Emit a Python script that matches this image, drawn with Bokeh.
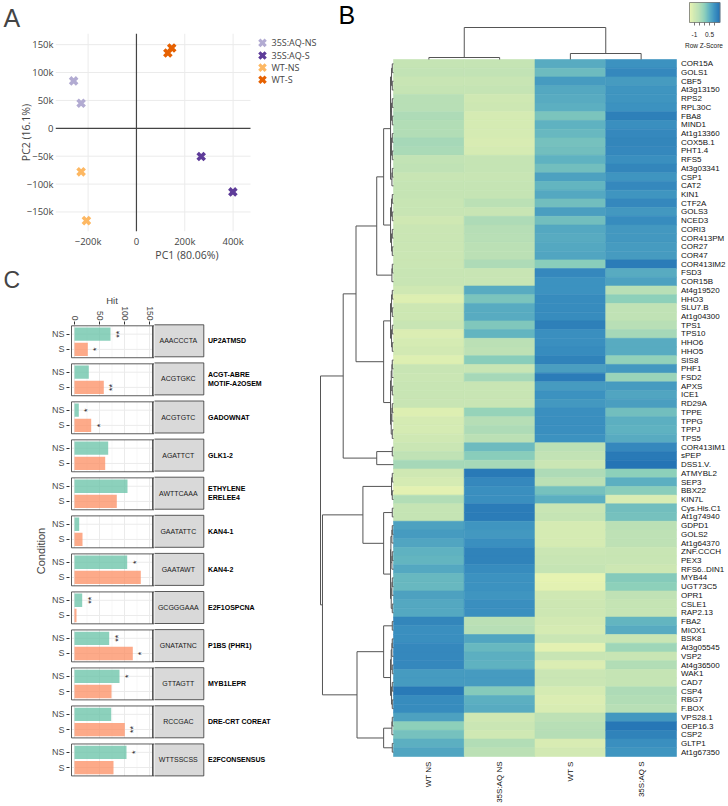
import math
from bokeh.plotting import figure
from bokeh.layouts import row, column
from bokeh.models import (Range1d, FixedTicker, CustomJSTickFormatter, Label,
                          LinearColorMapper, ColumnDataSource)
from bokeh.core.properties import value
from bokeh.embed import file_html
from bokeh.resources import INLINE

SANS = "Liberation Sans"
PLOTLY = "Open Sans"

# ============================ DATA ============================
# ---- Panel A : PCA ----
pca_groups = ["35S:AQ-NS", "35S:AQ-S", "WT-NS", "WT-S"]
pca_colors = ["#b2abd2", "#5e3c99", "#fdb863", "#e66101"]
pc1 = [[-260000, -229000], [268000, 399000], [-229000, -207000], [130000, 146000]]
pc2 = [[85000, 45000], [-50500, -114000], [-78000, -165500], [135000, 144000]]
pca_xticks = [-200000, 0, 200000, 400000]
pca_yticks = [-150000, -100000, -50000, 0, 50000, 100000, 150000]

# ---- Panel C : motif hits ----
motif_seq = ["AAACCCTA", "ACGTGKC", "ACGTGTC", "AGATTCT", "AWTTCAAA", "GAATATTC",
             "GAATAWT", "GCGGGAAA", "GNATATNC", "GTTAGTT", "RCCGAC", "WTTSSCSS"]
motif_name = ["UP2ATMSD", "ACGT-ABRE\nMOTIF-A2OSEM", "GADOWNAT", "GLK1-2",
              "ETHYLENE\nERELEE4", "KAN4-1", "KAN4-2", "E2F1OSPCNA", "P1BS (PHR1)",
              "MYB1LEPR", "DRE-CRT COREAT", "E2FCONSENSUS"]
hits_ns = [72, 28.6, 8.6, 67.4, 106, 9.4, 105.4, 15.4, 69.4, 90, 73.4, 104]
hits_s = [26.6, 58.6, 33.4, 61.4, 84.6, 16, 132.6, 4, 116.6, 74, 100.6, 78]
sig_ns = ["**", "", "*", "", "", "", "*", "**", "**", "*", "", "*"]
sig_s = ["*", "**", "*", "", "", "", "", "", "*", "", "**", ""]
hit_ticks = [0, 50, 100, 150]

# ---- Panel B : heatmap ----
genes = ["COR15A", "GOLS1", "CBF5", "At3g13150", "RPS2", "RPL30C", "FBA8", "MIND1",
         "At1g13360", "COX5B.1", "PHT1.4", "RFS5", "At3g03341", "CSP1", "CAT2", "KIN1",
         "CTF2A", "GOLS3", "NCED3", "CORI3", "COR413PM", "COR27", "COR47", "COR413IM2",
         "FSD3", "COR15B", "At4g19520", "HHO3", "SLU7.B", "At1g04300", "TPS1", "TPS10",
         "HHO6", "HHO5", "SIS8", "PHF1", "FSD2", "APXS", "ICE1", "RD29A", "TPPE", "TPPG",
         "TPPJ", "TPS5", "COR413IM1", "sPEP", "DSS1.V.", "ATMYBL2", "SEP3", "BBX22",
         "KIN7L", "Cys.His.C1", "At1g74940", "GDPD1", "GOLS2", "At1g64370", "ZNF.CCCH",
         "PEX3", "RFS6..DIN1", "MYB44", "UGT73C5", "OPR1", "CSLE1", "RAP2.13", "FBA2",
         "MIOX1", "BSK8", "At3g05545", "VSP2", "At4g36500", "WAK1", "CAD7", "CSP4", "RBG7",
         "F.BOX", "VPS28.1", "OEP16.3", "CSP2", "GLTP1", "At1g67350"]
conditions = ["WT NS", "35S:AQ NS", "WT S", "35S:AQ S"]
z_wt_ns = [-0.8, -0.75, -0.85, -0.8, -0.55, -0.55, -0.4, -0.45, -0.45, -0.3, -0.35, -0.75,
           -0.7, -0.85, -0.8, -0.8, -0.85, -0.85, -1.0, -0.9, -0.9, -0.9, -0.9, -0.9,
           -0.85, -0.85, -1.0, -1.25, -0.95, -0.95, -0.85, -1.2, -1.1, -1.05, -1.25, -0.85,
           -0.9, -0.85, -0.85, -0.85, -1.25, -1.1, -1.1, -1.0, -0.9, -0.7, -0.3, -1.0,
           -1.1, -1.35, -0.45, -0.8, -0.8, 0.75, 0.85, 0.7, 0.5, 0.45, 0.65, 0.4,
           0.4, 0.75, 0.65, 0.65, 1.2, 1.05, 1.05, 1.15, 1.15, 1.15, 0.85, 0.85,
           1.4, 1.1, 1.1, 0.75, 0.0, 0.25, 0.55, 0.7]
z_aq_ns = [-0.8, -0.75, -0.85, -0.8, -1.0, -0.95, -1.1, -1.1, -1.1, -1.15, -1.1, -0.8,
           -0.8, -0.85, -0.8, -0.8, -0.6, -0.85, -0.4, -0.5, -0.55, -0.6, -0.6, -0.4,
           -0.85, -0.85, 0.6, 0.2, 0.6, 0.6, 0.15, 0.45, -0.6, -0.65, 0.05, -0.85,
           -0.3, -0.85, -0.85, -0.85, -0.1, -0.5, -0.4, -0.6, 0.35, 0.05, -0.3, 1.4,
           1.15, 1.05, 1.05, 1.35, 1.35, 0.95, 0.9, 1.05, 1.25, 1.25, 1.1, 1.0,
           1.0, 0.95, 1.05, 1.05, -0.6, -0.55, 0.7, 0.4, 0.55, 0.5, 0.85, 0.85,
           0.1, 0.55, 0.6, -1.0, -0.9, -1.0, -0.45, -0.6]
z_wt_s = [0.6, 0.35, 0.85, 0.65, 0.6, 0.55, 0.2, 0.5, 0.4, 0.25, 0.3, 0.5,
          0.3, 0.75, 0.45, 0.65, 0.3, 0.8, 0.3, 0.65, 0.6, 0.65, 0.7, 0.05,
          1.15, 1.0, 1.0, 1.1, 1.1, 1.1, 1.3, 1.05, 1.05, 1.1, 1.25, 0.8,
          1.35, 0.85, 1.0, 0.9, 1.05, 1.05, 1.05, 1.0, -0.6, -0.75, -0.9, -0.4,
          -0.6, 0.25, 0.55, -0.85, -0.8, -1.1, -1.1, -1.1, -0.9, -0.85, -0.8, -1.4,
          -1.35, -1.0, -0.95, -0.95, -1.05, -1.1, -0.9, -1.35, -0.85, -1.2, -0.9, -0.9,
          -1.1, -1.2, -1.15, -0.65, -0.55, -0.5, -1.15, -1.05]
z_aq_s = [1.0, 1.15, 0.85, 0.95, 0.95, 1.0, 1.3, 1.05, 1.15, 1.2, 1.15, 1.05,
          1.2, 0.95, 1.15, 0.95, 1.15, 0.9, 1.1, 0.9, 0.9, 0.85, 0.85, 1.35,
          0.6, 0.75, -0.55, 0.0, -0.7, -0.7, -0.55, -0.3, 0.6, 0.6, -0.05, 0.9,
          -0.15, 0.85, 0.7, 0.8, 0.3, 0.55, 0.5, 0.6, 1.15, 1.4, 1.5, 0.0,
          0.55, 0.05, -1.15, 0.3, 0.25, -0.6, -0.65, -0.65, -0.85, -0.85, -0.95, 0.1,
          0.0, -0.7, -0.8, -0.8, 0.45, 0.6, -0.85, -0.2, -0.85, -0.45, -0.8, -0.8,
          -0.4, -0.45, -0.55, 0.9, 1.45, 1.25, 1.05, 0.95]
# dendrogram merges: (first row, last row, last row of upper branch, merge height)
row_merges = [(0, 79, 46, 74), (47, 79, 63, 72), (0, 46, 43, 51), (0, 43, 25, 38),
              (0, 25, 22, 17), (0, 22, 14, 10), (26, 43, 33, 10), (44, 46, 45, 17),
              (47, 63, 50, 31), (51, 63, 52, 10), (64, 79, 74, 37), (64, 74, 65, 10),
              (75, 79, 77, 10)]
col_merges = [(0, 3, 1, 32), (0, 1, 0, 2), (2, 3, 2, 6)]
key_ticks = [-1, -0.5, 0, 0.5, 1]
key_labelled = [-1, 0.5]
key_label_text = ["-1", "0.5"]


# ============================ helpers ============================
def dendro(lo, hi, merges):
    table = {(a, b): (s, h) for a, b, s, h in merges}
    segs = []

    def rec(a, b):
        if a == b:
            return float(a), 0.0
        if (a, b) in table:
            s, h = table[(a, b)]
        else:
            s = (a + b) // 2
            h = min(3.0, 0.9 + 0.35 * (b - a))
        pl, hl = rec(a, s)
        pr, hr = rec(s + 1, b)
        segs.append((h, pl, h, pr))
        segs.append((h, pl, hl, pl))
        segs.append((h, pr, hr, pr))
        return (pl + pr) / 2.0, h

    rec(lo, hi)
    return segs


def interp_palette(anchors, n=256):
    rgb = [tuple(int(a[i:i + 2], 16) for i in (1, 3, 5)) for a in anchors]
    out = []
    m = len(rgb) - 1
    for k in range(n):
        t = k / (n - 1) * m
        j = min(int(t), m - 1)
        f = t - j
        c = [round(rgb[j][q] + (rgb[j + 1][q] - rgb[j][q]) * f) for q in range(3)]
        out.append("#%02x%02x%02x" % tuple(c))
    return out


LEFT_W = 318
TOTAL_H = 805

# ============================ PANEL A ============================
A_W, A_H = LEFT_W, 264
AF_L, AF_T, AF_BOT = 55, 33, 237          # frame left / top / bottom (px)
A_PW = 195                                  # width of the plotting area
ax0, ax1 = -335000.0, 472000.0
ay0, ay1 = -185000.0, 170000.0
kx = (ax1 - ax0) / A_PW
ky = (ay1 - ay0) / (AF_BOT - AF_T)


def awx(px):
    return ax0 + (px - AF_L) * kx


def awy(py):
    return ay1 - (py - AF_T) * ky


pA = figure(width=A_W, height=A_H, x_range=Range1d(ax0, awx(A_W)),
            y_range=Range1d(ay0, ay1), min_border_left=AF_L, min_border_right=0,
            min_border_top=AF_T, min_border_bottom=A_H - AF_BOT, toolbar_location=None,
            output_backend="svg", outline_line_color=None)
pA.frame_align = False
pA.grid.visible = False
pA.title.text = "A"
pA.title.align = "left"
pA.title.offset = 3 - AF_L
pA.title.standoff = 0
pA.title.text_font = SANS
pA.title.text_font_size = "25px"
pA.title.text_font_style = "normal"
pA.title.vertical_align = "top"

gx = [t for t in pca_xticks if t != 0]
gy = [t for t in pca_yticks if t != 0]
pA.segment(x0=gx, y0=ay0, x1=gx, y1=ay1, line_color="#ebebeb", line_width=1)
pA.segment(x0=ax0, y0=gy, x1=ax1, y1=gy, line_color="#ebebeb", line_width=1)
pA.segment(x0=[0], y0=ay0, x1=[0], y1=ay1, line_color="#444444", line_width=1.2)
pA.segment(x0=ax0, y0=[0], x1=ax1, y1=[0], line_color="#444444", line_width=1.2)

fmt = CustomJSTickFormatter(code="if (tick == 0) { return '0'; } "
                                 "return (tick < 0 ? '\u2212' : '') + (Math.abs(tick) / 1000) + 'k';")
for axis, ticks in ((pA.xaxis[0], pca_xticks), (pA.yaxis[0], pca_yticks)):
    axis.ticker = FixedTicker(ticks=ticks)
    axis.formatter = fmt
    axis.axis_line_color = None
    axis.major_tick_line_color = None
    axis.major_tick_out = 0
    axis.major_tick_in = 0
    axis.minor_tick_line_color = None
    axis.major_label_text_font = PLOTLY
    axis.major_label_text_font_size = "9.5px"
    axis.major_label_text_color = "#444444"
    axis.axis_label_text_font = PLOTLY
    axis.axis_label_text_font_size = "10.5px"
    axis.axis_label_text_font_style = "normal"
    axis.axis_label_text_color = "#444444"
pA.xaxis.major_label_standoff = 3
pA.yaxis.major_label_standoff = 2
pA.xaxis.axis_label = "PC1 (80.06%)"
pA.xaxis.axis_label_standoff = -3
pA.xaxis.bounds = (ax0, ax1)
pA.yaxis.axis_label = "PC2 (16.1%)"
pA.yaxis.axis_label_standoff = -9

for g, colr, xs, ys in zip(pca_groups, pca_colors, pc1, pc2):
    pA.scatter(xs, ys, marker="x", size=10, line_width=3.6, line_color=colr)

# legend drawn beside the plotting area
leg_py = [42.7, 55.7, 68.2, 80.7]
pA.scatter([awx(262)] * 4, [awy(v) for v in leg_py], marker="x", size=9, line_width=3.2,
           line_color=pca_colors)
pA.text([awx(271)] * 4, [awy(v) for v in leg_py], text=pca_groups, text_font=value(PLOTLY),
        text_font_size="9px", text_color="#444444", text_baseline="middle", text_align="left")

# ============================ PANEL C ============================
C_TOP = A_H
C_H = TOTAL_H - A_H
CF_L, CF_T, CF_B = 69, 323, 777            # frame left / top / bottom (window px)
CB_W = 154                                   # width of the bar part
CS_W = LEFT_W - CB_W                         # width of the strip part
X_PX = 0.5
X0_PX = 74                                   # pixel of Hit = 0
PITCH = 38.1
cy1 = 0.42 + 1.3 / PITCH
cy0 = cy1 - (CF_B - CF_T) / PITCH


def cpx(px):
    return (px - X0_PX) / X_PX


c_yrange = Range1d(cy0, cy1)
pCb = figure(width=CB_W, height=C_H, x_range=Range1d(cpx(CF_L), cpx(CB_W)), y_range=c_yrange,
             x_axis_location="above", min_border_left=CF_L, min_border_right=0,
             min_border_top=CF_T - C_TOP, min_border_bottom=TOTAL_H - CF_B,
             toolbar_location=None, output_backend="svg", outline_line_color=None)
pCs = figure(width=CS_W, height=C_H, x_range=Range1d(cpx(CB_W), cpx(LEFT_W)), y_range=c_yrange,
             x_axis_type=None, y_axis_type=None, min_border_left=0, min_border_right=0,
             min_border_top=CF_T - C_TOP, min_border_bottom=TOTAL_H - CF_B,
             toolbar_location=None, output_backend="svg", outline_line_color=None)
for fig in (pCb, pCs):
    fig.frame_align = False
    fig.grid.visible = False

pCb.title.text = "C"
pCb.title.align = "left"
pCb.title.offset = 3 - CF_L
pCb.title.standoff = 0
pCb.title.text_font = SANS
pCb.title.text_font_size = "23px"
pCb.title.text_font_style = "normal"

PANEL_L, PANEL_R = cpx(71), cpx(152.3)
STRIP_R = cpx(203.3)
LABEL_X = cpx(207.5)
HALF = 0.42
n_m = len(motif_seq)
cyc = [-float(i) for i in range(n_m)]
y_ns = [c + 0.2 for c in cyc]
y_s = [c - 0.2 for c in cyc]
c_bot = [c - HALF for c in cyc]
c_top = [c + HALF for c in cyc]

pCb.quad(left=PANEL_L, right=PANEL_R, bottom=c_bot, top=c_top, fill_color="white",
         line_color=None)
minor_x = [25, 75, 125]
vx, vy0, vy1 = [], [], []
for c in cyc:
    for t in hit_ticks:
        vx.append(t); vy0.append(c - HALF); vy1.append(c + HALF)
pCb.segment(x0=vx, y0=vy0, x1=vx, y1=vy1, line_color="#ebebeb", line_width=1)
mx, my0, my1 = [], [], []
for c in cyc:
    for t in minor_x:
        mx.append(t); my0.append(c - HALF); my1.append(c + HALF)
pCb.segment(x0=mx, y0=my0, x1=mx, y1=my1, line_color="#f2f2f2", line_width=0.6)
pCb.segment(x0=PANEL_L, y0=y_ns + y_s, x1=PANEL_R, y1=y_ns + y_s, line_color="#ebebeb",
            line_width=1)

pCb.hbar(y=y_ns, left=0, right=hits_ns, height=0.35, fill_color="#66c2a5", fill_alpha=0.75,
         line_color=None)
pCb.hbar(y=y_s, left=0, right=hits_s, height=0.35, fill_color="#fc8d62", fill_alpha=0.75,
         line_color=None)
STAR_OFF = 16.6
pCb.text(x=[v + STAR_OFF for v in hits_ns], y=y_ns, text=sig_ns, angle=math.pi / 2,
         text_align="center", text_baseline="middle", text_font=value(SANS),
         text_font_size="9px", text_color="#222222")
pCb.text(x=[v + STAR_OFF for v in hits_s], y=y_s, text=sig_s, angle=math.pi / 2,
         text_align="center", text_baseline="middle", text_font=value(SANS),
         text_font_size="9px", text_color="#222222")

for fig in (pCb, pCs):
    fig.quad(left=PANEL_R, right=STRIP_R, bottom=c_bot, top=c_top, fill_color="#d9d9d9",
             line_color="#333333", line_width=0.8)
pCb.quad(left=PANEL_L, right=PANEL_R, bottom=c_bot, top=c_top, fill_color=None,
         line_color="#333333", line_width=0.8)
pCs.text(x=[(PANEL_R + STRIP_R) / 2] * n_m, y=cyc, text=motif_seq, text_align="center",
         text_baseline="middle", text_font=value(SANS), text_font_size="7px",
         text_color="#1a1a1a")
pCs.text(x=[LABEL_X] * n_m, y=cyc, text=motif_name, text_align="left", text_baseline="middle",
         text_font=value(SANS), text_font_size="7px", text_font_style="bold",
         text_color="#000000", text_line_height=1.25)

top_ax = pCb.xaxis[0]
top_ax.ticker = FixedTicker(ticks=hit_ticks)
top_ax.axis_line_color = None
top_ax.minor_tick_line_color = None
top_ax.major_tick_line_color = "#333333"
top_ax.major_tick_in = 0
top_ax.major_tick_out = 3
top_ax.major_label_orientation = -math.pi / 2
top_ax.major_label_standoff = 1
top_ax.major_label_text_font = SANS
top_ax.major_label_text_font_size = "8.5px"
top_ax.major_label_text_color = "#4d4d4d"
top_ax.axis_label = "Hit"
top_ax.axis_label_text_font = SANS
top_ax.axis_label_text_font_size = "9.5px"
top_ax.axis_label_text_font_style = "normal"
top_ax.axis_label_standoff = -3

left_ax = pCb.yaxis[0]
left_ax.ticker = FixedTicker(ticks=y_ns + y_s)
left_ax.formatter = CustomJSTickFormatter(
    code="const f = tick - Math.floor(tick); return f < 0.5 ? 'NS' : 'S';")
left_ax.axis_line_color = None
left_ax.minor_tick_line_color = None
left_ax.major_tick_line_color = "#333333"
left_ax.major_tick_in = 0
left_ax.major_tick_out = 3
left_ax.major_label_standoff = 2
left_ax.major_label_text_font = SANS
left_ax.major_label_text_font_size = "9px"
left_ax.major_label_text_color = "#4d4d4d"
left_ax.axis_label = "Condition"
left_ax.axis_label_text_font = SANS
left_ax.axis_label_text_font_size = "11px"
left_ax.axis_label_text_font_style = "normal"
left_ax.axis_label_standoff = 2

# ============================ PANEL B ============================
B_X = LEFT_W
B_W, B_H = 727 - LEFT_W, TOTAL_H
n_rows = len(genes)
HM_L = 393 - B_X
COLW = (676 - 393) / 4
HM_T = 59
ROWH = (756 - 59) / n_rows
DS = (393 - 320) / 74.0
KEY_PX = 10.0
KEY_X0 = 689 - B_X

pB = figure(width=B_W, height=B_H,
            x_range=Range1d(-HM_L / COLW, (B_W - HM_L) / COLW),
            y_range=Range1d(n_rows - (B_H - HM_T) / ROWH, n_rows + HM_T / ROWH),
            x_axis_type=None, y_axis_type=None, min_border=0, toolbar_location=None,
            output_backend="svg", outline_line_color=None)
pB.frame_align = False
pB.extra_x_ranges = {"rd": Range1d(HM_L / DS, -(B_W - HM_L) / DS),
                     "key": Range1d(-1.5 - KEY_X0 / KEY_PX, -1.5 + (B_W - KEY_X0) / KEY_PX)}
pB.extra_y_ranges = {"cd": Range1d(HM_T - B_H, HM_T)}

pal = interp_palette(["#EBF5B2", "#CFE8B3", "#B6DEB6", "#8ED0BA", "#5FB2C1", "#3C92C0",
                      "#2574B5"])
mapper = LinearColorMapper(palette=pal, low=-1.5, high=1.5)

hx, hy, hz = [], [], []
for ci, zc in enumerate([z_wt_ns, z_aq_ns, z_wt_s, z_aq_s]):
    for ri, zv in enumerate(zc):
        hx.append(ci + 0.5)
        hy.append(n_rows - 0.5 - ri)
        hz.append(zv)
hsrc = ColumnDataSource(dict(x=hx, y=hy, z=hz))
pB.rect(x="x", y="y", width=1, height=1, source=hsrc,
        fill_color={"field": "z", "transform": mapper},
        line_color={"field": "z", "transform": mapper}, line_width=0.6)

pB.text(x=[4 + 4.5 / COLW] * n_rows, y=[n_rows - 0.5 - i for i in range(n_rows)], text=genes,
        text_align="left", text_baseline="middle", text_font=value(SANS),
        text_font_size="8px", text_color="#111111")
pB.text(x=[i + 0.5 for i in range(len(conditions))], y=[-5 / ROWH] * len(conditions),
        text=conditions, angle=math.pi / 2, text_align="right", text_baseline="middle",
        text_font=value(SANS), text_font_size="8px", text_color="#111111")

rs = dendro(0, n_rows - 1, row_merges)
pB.segment(x0=[s[0] for s in rs], y0=[n_rows - 0.5 - s[1] for s in rs],
           x1=[s[2] for s in rs], y1=[n_rows - 0.5 - s[3] for s in rs],
           x_range_name="rd", line_color="#555555", line_width=1)
cs = dendro(0, len(conditions) - 1, col_merges)
pB.segment(x0=[s[1] + 0.5 for s in cs], y0=[s[0] for s in cs],
           x1=[s[3] + 0.5 for s in cs], y1=[s[2] for s in cs],
           y_range_name="cd", line_color="#555555", line_width=1)

# colour key
kz = [-1.5 + 0.05 * k for k in range(61)]
kcol = [pal[min(255, max(0, int((z + 0.025 + 1.5) / 3.0 * 255)))] for z in kz]
pB.quad(left=kz, right=[z + 0.05 for z in kz], bottom=37, top=57,
        fill_color=kcol, line_color=kcol, line_width=0.5,
        x_range_name="key", y_range_name="cd")
pB.quad(left=[-1.5], right=[1.55], bottom=[37], top=[57], fill_color=None,
        line_color="#777777", line_width=0.8, x_range_name="key", y_range_name="cd")
pB.segment(x0=key_ticks, y0=37, x1=key_ticks, y1=34, line_color="#555555", line_width=0.8,
           x_range_name="key", y_range_name="cd")
pB.text(x=key_labelled, y=[25, 25], text=key_label_text, text_align="center",
        text_baseline="middle", text_font=value(SANS), text_font_size="6.5px",
        text_color="#222222", x_range_name="key", y_range_name="cd")
pB.text(x=[-0.05], y=[14], text=["Row Z-Score"], text_align="center", text_baseline="middle",
        text_font=value(SANS), text_font_size="6.5px", text_color="#222222",
        x_range_name="key", y_range_name="cd")

pB.add_layout(Label(x=(338 - 393) / COLW, y=n_rows + (HM_T - 0) / ROWH, text="B",
                    text_align="left", text_baseline="top", text_font=SANS,
                    text_font_size="25px", text_color="#000000"))

layout = row(column(pA, row(pCb, pCs)), pB)
open("out.html", "w").write(file_html(layout, INLINE))
